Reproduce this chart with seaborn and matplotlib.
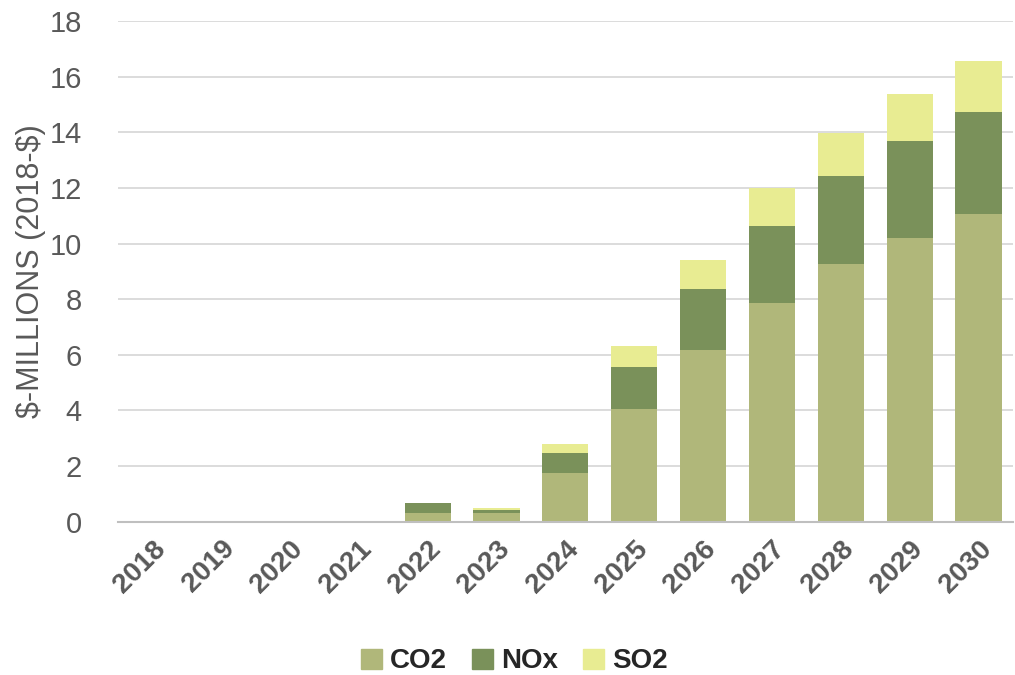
import matplotlib
matplotlib.use("Agg")
import matplotlib.pyplot as plt
import seaborn as sns
import pandas as pd
import numpy as np
from matplotlib.patches import Patch

years = ["2018", "2019", "2020", "2021", "2022", "2023", "2024", "2025", "2026", "2027", "2028", "2029", "2030"]
co2 = [0, 0, 0, 0.04, 0.33, 0.30, 1.77, 4.06, 6.18, 7.88, 9.27, 10.20, 11.07]
nox = [0, 0, 0, 0.0, 0.35, 0.13, 0.70, 1.52, 2.17, 2.75, 3.14, 3.47, 3.66]
so2 = [0, 0, 0, 0.0, 0.01, 0.06, 0.32, 0.72, 1.06, 1.35, 1.57, 1.71, 1.83]

c_co2 = "#b0b77a"
c_nox = "#7a915a"
c_so2 = "#e8ec92"

sns.set_theme(style="white")
plt.rcParams['font.family'] = ['Liberation Sans', 'DejaVu Sans']

df = pd.DataFrame({"year": years, "co2": co2, "nox": nox, "so2": so2})
df["l1"] = df["co2"]
df["l2"] = df["co2"] + df["nox"]
df["l3"] = df["l2"] + df["so2"]

fig = plt.figure(figsize=(10.15, 6.75), dpi=100)
ax = fig.add_axes([0.116, 0.227, 0.882, 0.742])

for col, c in [("l3", c_so2), ("l2", c_nox), ("l1", c_co2)]:
    sns.barplot(data=df, x="year", y=col, color=c, width=0.67, ax=ax,
                saturation=1, linewidth=0, errorbar=None)

ax.set_ylim(0, 18)
ax.set_yticks(np.arange(0, 19, 2))
ax.yaxis.grid(True, color="#d9d9d9", linewidth=1.3)
ax.set_axisbelow(True)
for s in ["top", "right", "left"]:
    ax.spines[s].set_visible(False)
ax.spines["bottom"].set_color("#bfbfbf")
ax.spines["bottom"].set_linewidth(1.5)
ax.tick_params(axis="both", length=0)
ax.tick_params(axis="y", labelsize=21, labelcolor="#595959", pad=26)
ax.set_xlabel("")
ax.set_ylabel(r"\$-MILLIONS (2018-\$)", fontsize=22, color="#595959", labelpad=2)
for lab in ax.get_xticklabels():
    lab.set_rotation(45)
    lab.set_ha("right")
    lab.set_rotation_mode("anchor")
    lab.set_fontsize(20)
    lab.set_fontweight("bold")
    lab.set_color("#595959")
ax.tick_params(axis="x", pad=10)

handles = [Patch(color=c_co2, label="CO2"), Patch(color=c_nox, label="NOx"), Patch(color=c_so2, label="SO2")]
fig.legend(handles=handles, loc="center", bbox_to_anchor=(0.507, 0.02), ncol=3, frameon=False,
           prop={"size": 20, "weight": "bold"}, handlelength=0.75, handleheight=0.75,
           handletextpad=0.3, columnspacing=0.9)

fig.savefig("out.png", dpi=100)
